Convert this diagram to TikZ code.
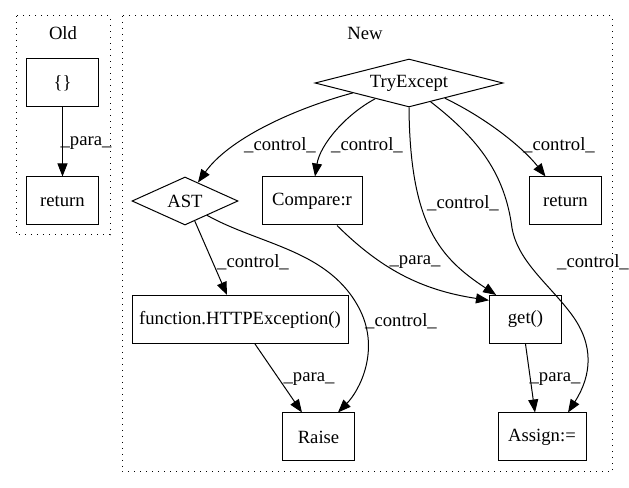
\documentclass[tikz,border=0pt]{standalone}
\usepackage{fontspec}
\setmainfont{Liberation Serif}
\usetikzlibrary{arrows.meta,shapes.geometric}
\begin{document}
\begin{tikzpicture}[
      x=0.75pt, y=-0.75pt,
      every node/.style={font=\fontsize{14}{16}\selectfont},
      box/.style={rectangle, draw=black, line width=0.75pt, minimum width=54pt, minimum height=36pt, inner sep=0pt},
      cond/.style={diamond, draw=black, line width=0.75pt, inner sep=0pt, minimum height=36pt},
      cluster/.style={draw=black, line width=0.75pt, dash pattern=on 0.9pt off 3.6pt},
      edge/.style={line width=0.75pt, -{Triangle[length=9.75pt, width=7.5pt]}},
      lbl/.style={inner sep=0pt}
  ]
    \useasboundingbox (0,0) rectangle (629,488);
    \draw[cluster] (16,16) rectangle (110,235);
    \draw[cluster] (122,16) rectangle (612,472);
    \node[lbl] (oldlabel) at (63,33) {Old};
    \node[lbl] (newlabel) at (365,33) {New};

    \node[box] (braces) at (62.5,83) {\{\}};
    \node[box] (oldret) at (62.5,201) {return};

    \node[cond, minimum width=141pt, aspect=3.9] (try) at (409,83) {TryExcept};
    \node[cond, minimum width=79.5pt, aspect=2.2] (ast) at (185,201) {AST};
    \node[box, minimum width=75pt] (cmp) at (312,201) {Compare:r};
    \node[box] (newret) at (565.5,201) {return};
    \node[box, minimum width=162pt] (http) at (240,319.5) {function.HTTPException()};
    \node[box] (get) at (525.5,319.5) {get()};
    \node[box] (raise) at (318.5,437) {Raise};
    \node[box, minimum width=66pt] (asg) at (542,437) {Assign:=};

    \draw[edge] (braces) -- (oldret);
    \draw[edge] (try.190) .. controls (290,110) and (228,140) .. (ast.55);
    \draw[edge] (try.205) .. controls (345,115) and (320,145) .. ([xshift=2.25pt]cmp.north);
    \draw[edge] (try.south) .. controls (410,225) and (440,258) .. ([xshift=-22pt]get.north);
    \draw[edge] (try.-23) .. controls (490,120) and (525,150) .. ([xshift=-15pt]newret.north);
    \draw[edge] (try.-41) .. controls (480,140) and (505,175) .. (512,228)
      .. controls (518,262) and (550,285) .. (572,315)
      .. controls (594,345) and (592,375) .. ([xshift=19.5pt]asg.north);
    \draw[edge] (ast.-64) -- ([xshift=-9.75pt]http.north);
    \draw[edge] (ast.-33) .. controls (260,245) and (330,250) .. (360,310)
      .. controls (380,350) and (360,390) .. ([xshift=14.6pt]raise.north);
    \draw[edge] ([xshift=18.75pt]cmp.south) .. controls (380,268) and (420,290) .. ([yshift=-4pt]get.north west);
    \draw[edge] ([xshift=11.25pt]http.south) -- ([xshift=-12.4pt]raise.north);
    \draw[edge] (get.south) -- ([xshift=-5.25pt]asg.north);

    \node[lbl] (l1) at (86,143) {\_para\_};
    \node[lbl] (l2) at (280,145) {\_control\_};
    \node[lbl] (l3) at (367,145) {\_control\_};
    \node[lbl] (l4) at (559,145) {\_control\_};
    \node[lbl] (l5) at (463,203) {\_control\_};
    \node[lbl] (l6) at (593,262) {\_control\_};
    \node[lbl] (l7) at (253,262) {\_control\_};
    \node[lbl] (l8) at (401,321) {\_control\_};
    \node[lbl] (l9) at (415,262) {\_para\_};
    \node[lbl] (l10) at (309,379) {\_para\_};
    \node[lbl] (l11) at (555,379) {\_para\_};
\end{tikzpicture}
\end{document}
